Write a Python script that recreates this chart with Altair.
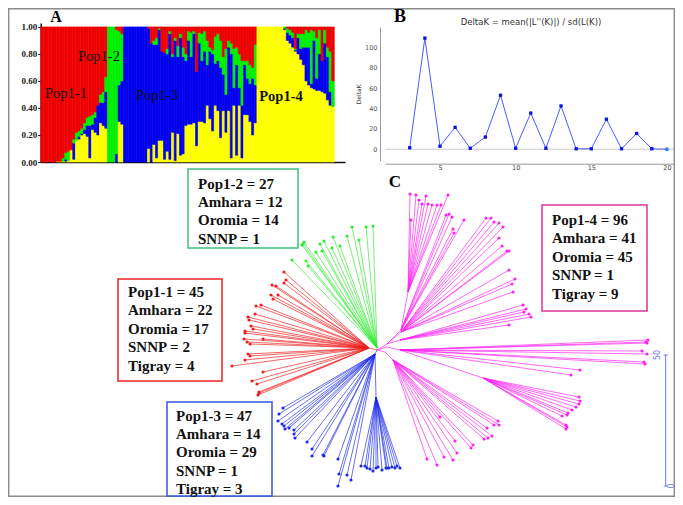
import altair as alt
import pandas as pd

# ---------- Panel A: membership coefficients (cumulative tops: yellow, blue, green; red fills to 1)
yellow_top = [0,0,0,0,0,0,.005,.005,.005,.005,.01,.09,.02,.16,.17,.20,.21,.19,.03,.24,.22,.20,.29,.27,.25,
 0,0,0,0,.30,.28,
 0,0,0,0,0,0,0,0,0,.10,0,.13,.03,.16,.16,.02,.08,.02,.22,.01,.21,.05,.06,.27,.28,.28,.29,.12,.30,.30,.29,.42,.32,.23,.42,.38,.18,.38,.22,.38,.03,.42,.05,.42,.03,.35,.35,.30,.20,.29,
 1,1,1,1,1,1,1,1,1,1,.98,.90,.88,.85,.82,.80,.76,.72,.60,.57,.55,.54,.53,.53,.52,.51,.46,.42,.41]
blue_top = [0,0,0,0,0,0,.005,.005,.005,.02,.01,.09,.14,.16,.19,.21,.24,.27,.27,.28,.33,.42,.44,.44,.52,
 0,0,0,.06,.57,.60,
 1,1,1,1,1,1,1,1,1,.99,.88,.87,.87,.98,.82,.81,.80,.95,.78,.90,.78,.92,.78,.75,.90,.78,.95,.67,.88,.75,.82,.72,.82,.80,.73,.75,.70,.65,.50,.85,.80,.55,.72,.55,.42,.72,.62,.58,.62,.57,
 1,1,1,1,1,1,1,1,1,1,.99,.96,.94,.92,.83,.92,.84,.85,.85,.85,.58,.90,.62,.80,.75,.88,.78,.52,.41]
green_top = [0,0,0,0,0,0,.005,.005,.03,.07,.08,.09,.17,.22,.23,.25,.29,.33,.34,.35,.37,.42,.50,.52,.63,
 1,1,1,.98,.97,.95,
 1,1,1,1,1,1,1,1,1,.99,.88,.90,.92,.99,.82,.81,.84,.97,.80,.92,.86,.95,.85,.80,.97,.96,.97,.67,.96,.95,.97,.90,.85,.83,.93,.95,.90,.78,.84,.90,.88,.84,.85,.80,.75,.75,.75,.72,.70,.87,
 1,1,1,1,1,1,1,1,1,1,1,.99,.98,.96,.84,.95,.95,.95,.98,.96,.98,.97,.92,.98,.75,.98,.85,.82,.60]

# ---------- Panel B: Evanno DeltaK
k_values = [3,4,5,6,7,8,9,10,11,12,13,14,15,16,17,18,19,20]
delta_k = [1.5,109,3,21.5,1,12,53,1,35.5,1,42.5,.5,.5,29.5,.5,15.5,.5,0]

# ---------- Panel C: tree tips as offsets from the root, (across, up) in branch units
green_tips = [(-85,90),(-71,89),(-69,84),(-75,105),(-73,108),(-74,106),(-57,106),(-53,109),(-61,98),(-55,99),
 (-45,102),(-44,113),(-37,104),(-30,114),(-25,123),(-18,110),(-11,123),(-4,124)]
red_tips = [(-93,78),(-91,70),(-93,67),(-105,65),(-101,64),(-106,55),(-99,55),(-104,51),(-121,44),(-116,45),
 (-122,36),(-129,33),(-128,30),(-126,24),(-124,21),(-132,19),(-132,17),(-133,11),(-130,8),(-127,6),(-114,11),
 (-129,-4),(-127,-6),(-132,-10),(-145,-16),(-114,-22),(-125,-31),(-120,-34),(-119,-45),(-118,-43),(-118,-42)]
blue_tips = [(-94,-58),(-98,-64),(-99,-71),(-95,-74),(-93,-76),(-92,-79),(-88,-78),(-83,-80),(-83,-84),(-82,-88),
 (-70,-92),(-65,-99),(-65,-106),(-54,-105),(-53,-106),(-39,-109),(-38,-124),(-39,-136),(-30,-125),(-26,-130)]
blue_fan_tips = [(-16,-116),(-12,-116),(-10,-118),(-7,-119),(-4,-121),(-1,-118),(1,-117),(5,-120),(9,-118),
 (10,-118),(12,-118),(15,-117),(18,-118),(20,-116),(23,-118)]
pink_stem_tips = [(33,156),(39,155),(49,154),(42,150),(45,146),(51,146),(55,145),(60,145),(64,145),(71,155),(34,130)]
pink_top_tips = [(69,135),(72,136),(75,133),(87,130),(76,121),(77,117)]
pink_upper_tips = [(109,132),(114,132),(117,128),(122,127),(126,123),(122,112),(125,104),(130,99),(132,99),
 (132,80),(138,71),(135,66),(136,58)]
pink_mid_tips = [(146,45),(149,41),(147,38),(152,36),(154,33),(132,25)]
pink_long_tips = [(271,10),(270,7),(269,8),(265,-1),(270,-4),(267,-12),(268,-14),(203,-20),(194,-25)]
pink_fan_tips = [(202,-47),(203,-51),(202,-54),(199,-57),(195,-60),(191,-63),(190,-65),(185,-66),(189,-75),(190,-77),(189,-79)]
pink_low_tips = [(121,-71),(117,-75),(122,-75),(110,-78),(115,-86),(111,-88),(107,-89),(96,-95),(94,-98),(78,-91),
 (63,-67),(80,-103),(76,-110),(67,-107),(60,-115),(50,-109)]

# group name, internal node, parent of that node, tips
clades = [
 ("green",(0,2),(0,0),green_tips),
 ("red",(-8,2),(0,0),red_tips),
 ("blue",(-2,-4),(0,0),blue_tips),
 ("blue",(-1,-47),(-2,-4),blue_fan_tips),
 ("pink",(31,58),(24,20),pink_stem_tips),
 ("pink",(24,20),(10,6),pink_top_tips),
 ("pink",(24,18),(10,6),pink_upper_tips),
 ("pink",(23,10),(10,6),pink_mid_tips),
 ("pink",(23,0),(10,3),pink_long_tips),
 ("pink",(106,-28),(23,0),pink_fan_tips),
 ("pink",(16,-10),(8,-2),pink_low_tips),
]
trunks = [("pink",(0,0),(10,6)),("pink",(0,0),(10,3)),("pink",(0,0),(8,-2))]

box_frames = [
 (188,169,298,248,"#3fbf80"),
 (118,279,222,381,"#ee2222"),
 (167,402,272,496,"#3355dd"),
 (542,205,647,311,"#dd3399"),
]
box_text = [
 (198,["Pop1-2 = 27","Amhara = 12","Oromia = 14","SNNP = 1"],183.5),
 (128,["Pop1-1 = 45","Amhara = 22","Oromia = 17","SNNP = 2","Tigray = 4"],292),
 (176,["Pop1-3 = 47","Amhara = 14","Oromia = 29","SNNP = 1","Tigray = 3"],415.5),
 (552,["Pop1-4 = 96","Amhara = 41","Oromia = 45","SNNP = 1","Tigray = 9"],220),
]
panel_letters = [("A",56,17,16),("B",400,17,18),("C",395,182,17)]
pop_labels = [("Pop1-1",66,94,"normal"),("Pop1-2",99,57,"normal"),("Pop1-3",157,96,"normal"),("Pop1-4",281,97,"bold")]

SERIF = "Liberation Serif"
SANS = "DejaVu Sans"
W, H = 667, 489
def cx(v): return v - 8
def cy(v): return v - 8

# ---------- Panel A
rows = []
for i, (a, b, c) in enumerate(zip(yellow_top, blue_top, green_top)):
    rows += [dict(i=i, j=i+1, lo=0, hi=a, c="yellow"), dict(i=i, j=i+1, lo=a, hi=b, c="blue"),
             dict(i=i, j=i+1, lo=b, hi=c, c="green"), dict(i=i, j=i+1, lo=c, hi=1, c="red")]
a_df = pd.DataFrame(rows)
a_df = a_df[a_df.hi > a_df.lo]
ax_a = alt.Scale(domain=[0, 114], range=[cx(40.7), cx(345)], nice=False, zero=False)
ay_a = alt.Scale(domain=[0, 1.03], range=[cy(162), cy(22.9)], nice=False)
panel_a = alt.Chart(a_df).mark_bar(strokeWidth=0.6).encode(
    x=alt.X("i:Q", scale=ax_a, axis=alt.Axis(orient="bottom", title=None, labels=False, ticks=False, grid=False, domainColor="#111", domainWidth=1.5, offset=cy(162)-H)),
    x2="j:Q",
    y=alt.Y("lo:Q", scale=ay_a, axis=alt.Axis(orient="left", title=None, values=[0,.2,.4,.6,.8,1], format=".2f", grid=False,
            labelFont=SERIF, labelFontWeight="bold", labelFontSize=9, labelColor="#222", labelPadding=1,
            tickColor="#111", tickSize=3, domainColor="#111", domainWidth=1.5, offset=-cx(40.7))),
    y2="hi:Q",
    color=alt.Color("c:N", scale=alt.Scale(domain=["yellow","blue","green","red"], range=["#ffff00","#0000ee","#00ee00","#ee0000"]), legend=None),
    stroke=alt.Stroke("c:N", scale=alt.Scale(domain=["yellow","blue","green","red"], range=["#ffff00","#0000ee","#00ee00","#ee0000"]), legend=None),
)

# ---------- Panel B
b_df = pd.DataFrame(dict(k=k_values, d=delta_k))
ax_b = alt.Scale(domain=[1.365, 20.6], range=[cx(385), cx(676)], nice=False, zero=False)
ay_b = alt.Scale(domain=[-11.2, 119.9], range=[cy(160.7), cy(27)], nice=False, zero=False)
bx = alt.X("k:Q", scale=ax_b, axis=alt.Axis(orient="bottom", title=None, values=[5,10,15,20], grid=False, labelFont=SANS, labelFontSize=6.5,
           labelColor="#444", labelPadding=1, ticks=False, domainColor="#999", domainWidth=1, offset=cy(163.7)-H))
by = alt.Y("d:Q", scale=ay_b, axis=alt.Axis(orient="left", title="DeltaK", values=[0,20,40,60,80,100], grid=False, labelFont=SANS, labelFontSize=6.5,
           labelColor="#555", labelPadding=3, ticks=False, domainColor="#999", domainWidth=1, titleFont=SANS, titleFontSize=6,
           titleFontWeight="normal", titleColor="#333", titlePadding=3, offset=-cx(380)))
b_zero = alt.Chart(pd.DataFrame(dict(k=[1.365], k2=[20.6], d=[0]))).mark_rule(color="#cccccc", strokeWidth=1).encode(x=bx, x2="k2:Q", y=by)
b_line = alt.Chart(b_df).mark_line(color="#4a5cff", strokeWidth=1).encode(x=bx, y=by)
b_pts = alt.Chart(b_df[b_df.k < 20]).mark_square(color="#0a14e0", size=11, opacity=1).encode(x=bx, y=by)
b_last = alt.Chart(b_df[b_df.k == 20]).mark_square(color="#2080ff", size=11, opacity=1).encode(x=bx, y=by)
panel_b = alt.layer(b_zero, b_line, b_pts, b_last)

# ---------- Panel C
edges, tips = [], []
for g, a, b in trunks:
    edges.append(dict(x=a[0], y=a[1], x2=b[0], y2=b[1], g=g))
for g, hub, parent, pts in clades:
    edges.append(dict(x=parent[0], y=parent[1], x2=hub[0], y2=hub[1], g=g))
    for p in pts:
        edges.append(dict(x=hub[0], y=hub[1], x2=p[0], y2=p[1], g=g))
        tips.append(dict(x=p[0], y=p[1], g=g))
e_df, t_df = pd.DataFrame(edges), pd.DataFrame(tips)
ax_c = alt.Scale(domain=[-377, 306], range=[cx(0), cx(683)], nice=False, zero=False)
ay_c = alt.Scale(domain=[-155, 350], range=[cy(505), cy(0)], nice=False, zero=False)
col_c = alt.Color("g:N", scale=alt.Scale(domain=["green","red","blue","pink"], range=["#2fea2f","#ee1c1c","#1a2ae8","#ff20f0"]), legend=None)
c_edges = alt.Chart(e_df).mark_rule(strokeWidth=0.9, opacity=0.75).encode(
    x=alt.X("x:Q", scale=ax_c, axis=None), x2="x2:Q", y=alt.Y("y:Q", scale=ay_c, axis=None), y2="y2:Q", color=col_c)
c_tips = alt.Chart(t_df).mark_circle(size=10, opacity=1).encode(
    x=alt.X("x:Q", scale=ax_c, axis=None), y=alt.Y("y:Q", scale=ay_c, axis=None), color=col_c)
panel_c = alt.layer(c_edges, c_tips)

# scale bar
sb_y = alt.Scale(domain=[0, 50], range=[cy(486), cy(355)], nice=False, zero=False)
sb_df = pd.DataFrame(dict(v=[0, 50], lab=["0", "50"]))
sb_line = alt.Chart(pd.DataFrame(dict(v=[0], v2=[50]))).mark_rule(color="#6a78e8", strokeWidth=1).encode(
    x=alt.value(cx(665.7)), y=alt.Y("v:Q", scale=sb_y, axis=None), y2="v2:Q")
sb_caps = alt.Chart(sb_df).mark_rule(color="#6a78e8", strokeWidth=1).encode(
    x=alt.value(cx(663.7)), x2=alt.value(cx(667.7)), y=alt.Y("v:Q", scale=sb_y, axis=None))
sb_text0 = alt.Chart(sb_df[sb_df.v == 0]).mark_text(font=SANS, fontSize=8, angle=270, color="#6a78e8", baseline="middle", dy=6).encode(
    x=alt.value(cx(665.7)), y=alt.Y("v:Q", scale=sb_y, axis=None), text="lab:N")
sb_text1 = alt.Chart(sb_df[sb_df.v == 50]).mark_text(font=SANS, fontSize=8, angle=270, color="#6a78e8", baseline="middle", dy=-8).encode(
    x=alt.value(cx(665.7)), y=alt.Y("v:Q", scale=sb_y, axis=None), text="lab:N")
scale_bar = alt.layer(sb_line, sb_caps, sb_text0, sb_text1)

# ---------- Page furniture, in picture coordinates
px = alt.Scale(domain=[0, 683], range=[cx(0), cx(683)], nice=False, zero=False)
py = alt.Scale(domain=[0, 505], range=[cy(0), cy(505)], nice=False, zero=False)
PX = lambda f: alt.X(f, scale=px, axis=None)
PY = lambda f: alt.Y(f, scale=py, axis=None)

frame_df = pd.DataFrame([dict(x=8.7,y=8.7,x2=674.3,y2=496.3)])
frame = alt.Chart(frame_df).mark_rect(fill=None, stroke="#8a8a8a", strokeWidth=1.4).encode(
    x=PX("x:Q"), x2="x2:Q", y=PY("y:Q"), y2="y2:Q")
box_df = pd.DataFrame([dict(x=a, y=b, x2=c, y2=d, col=e) for a, b, c, d, e in box_frames])
boxes = alt.Chart(box_df).mark_rect(fill="#ffffff", strokeWidth=1.5).encode(
    x=PX("x:Q"), x2="x2:Q", y=PY("y:Q"), y2="y2:Q", stroke=alt.Stroke("col:N", scale=None))
txt_rows = []
for x0, lines, y0 in box_text:
    for n, t in enumerate(lines):
        txt_rows.append(dict(x=x0, y=y0 + n * 18.4, t=t))
box_txt = alt.Chart(pd.DataFrame(txt_rows)).mark_text(font=SERIF, fontWeight="bold", fontSize=15, align="left", baseline="middle", color="#111").encode(
    x=PX("x:Q"), y=PY("y:Q"), text="t:N")
let_layers = [alt.Chart(pd.DataFrame([dict(x=a, y=b, t=t)])).mark_text(font=SERIF, fontWeight="bold", fontSize=s, align="center", baseline="middle", color="#000").encode(
    x=PX("x:Q"), y=PY("y:Q"), text="t:N") for t, a, b, s in panel_letters]
pop_layers = [alt.Chart(pd.DataFrame([dict(x=a, y=b, t=t)])).mark_text(font=SERIF, fontWeight=w, fontSize=14.5, align="center", baseline="middle", color="#111").encode(
    x=PX("x:Q"), y=PY("y:Q"), text="t:N") for t, a, b, w in pop_labels]
b_title = alt.Chart(pd.DataFrame([dict(x=531, y=22, t="DeltaK = mean(|L''(K)|) / sd(L(K))")])).mark_text(font=SANS, fontSize=8.5, align="center", baseline="middle", color="#333").encode(
    x=PX("x:Q"), y=PY("y:Q"), text="t:N")
page = alt.layer(frame, boxes, box_txt, b_title, *let_layers, *pop_layers)

chart = alt.layer(panel_a, panel_b, panel_c, scale_bar, page).resolve_scale(
    x="independent", y="independent", color="independent", stroke="independent"
).properties(width=W, height=H, padding=0, autosize=alt.AutoSizeParams(type="none")
).configure_view(stroke=None)
chart.save("out.html", embed_options={"renderer": "svg", "actions": False})
